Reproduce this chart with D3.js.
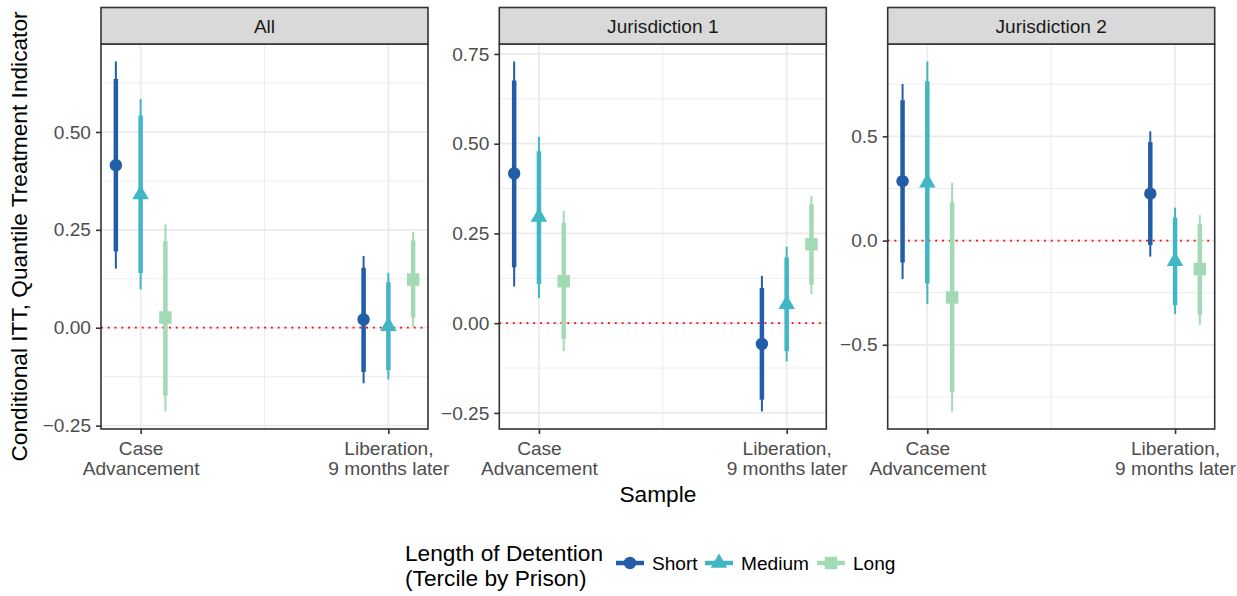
<!DOCTYPE html>
<html>
<head>
<meta charset="utf-8">
<script src="https://cdn.jsdelivr.net/npm/d3@7"></script>
<style>
  body { margin: 0; background: #fff; }
  text { font-family: "Liberation Sans", Arial, sans-serif; }
</style>
</head>
<body>
<svg id="chart" width="1237" height="596"></svg>
<script>
var panels = ["All", "Jurisdiction 1", "Jurisdiction 2"];
var samples = [["Case", "Advancement"], ["Liberation,", "9 months later"]];
var groups = ["Short", "Medium", "Long"];

// values are [panel][sample][group]
var estimate = [
  [[0.415, 0.340, 0.026], [0.021, 0.004, 0.123]],
  [[0.417, 0.296, 0.117], [-0.058, 0.053, 0.220]],
  [[0.285, 0.277, -0.273], [0.225, -0.099, -0.137]]
];
var lo95 = [
  [[0.151, 0.098, -0.214], [-0.142, -0.132, 0.002]],
  [[0.102, 0.070, -0.078], [-0.246, -0.106, 0.081]],
  [[-0.185, -0.305, -0.820], [-0.077, -0.353, -0.404]]
];
var lo90 = [
  [[0.195, 0.140, -0.173], [-0.113, -0.108, 0.026]],
  [[0.156, 0.109, -0.044], [-0.213, -0.078, 0.107]],
  [[-0.105, -0.206, -0.727], [-0.022, -0.310, -0.357]]
];
var hi90 = [
  [[0.635, 0.542, 0.221], [0.153, 0.116, 0.223]],
  [[0.676, 0.479, 0.279], [0.098, 0.183, 0.331]],
  [[0.673, 0.764, 0.185], [0.472, 0.110, 0.078]]
];
var hi95 = [
  [[0.680, 0.584, 0.264], [0.183, 0.140, 0.245]],
  [[0.729, 0.519, 0.313], [0.132, 0.213, 0.354]],
  [[0.751, 0.859, 0.277], [0.524, 0.158, 0.122]]
];
var yTicks = [
  [-0.25, 0, 0.25, 0.5],
  [-0.25, 0, 0.25, 0.5, 0.75],
  [-0.5, 0, 0.5]
];
var yTickFormat = [".2f", ".2f", ".1f"];

var colors = ["#225ea8", "#41b6c4", "#a1dab4"];
var shapes = [d3.symbolCircle, d3.symbolTriangle, d3.symbolSquare];
var shapeSize = [121, 118, 156];
var dodge = [-0.1, 0, 0.1];

var panelLeft = [101, 499.3, 887.7];
var panelW = 327;
var stripTop = 7.5, panelTop = 44, panelBottom = 429;
var tickFont = "19.1px", titleFont = "22.7px";

var svg = d3.select("#chart");

// flat rows so each mark is drawn from the arrays
function rowsFor(p) {
  var rows = [];
  samples.forEach(function(s, si) {
    groups.forEach(function(g, gi) {
      rows.push({
        sample: si + 1, group: gi,
        est: estimate[p][si][gi],
        lo95: lo95[p][si][gi], lo90: lo90[p][si][gi],
        hi90: hi90[p][si][gi], hi95: hi95[p][si][gi]
      });
    });
  });
  return rows;
}

panels.forEach(function(name, p) {
  var rows = rowsFor(p);
  var left = panelLeft[p];

  var xs = [];
  rows.forEach(function(d) { xs.push(d.sample + dodge[d.group]); });
  var xMin = d3.min(xs), xMax = d3.max(xs), xPad = (xMax - xMin) * 0.05;
  var x = d3.scaleLinear().domain([xMin - xPad, xMax + xPad]).range([left, left + panelW]);

  var yMin = d3.min(rows, d => d.lo95), yMax = d3.max(rows, d => d.hi95);
  var yPad = (yMax - yMin) * 0.05;
  var y = d3.scaleLinear().domain([yMin - yPad, yMax + yPad]).range([panelBottom, panelTop]);

  var g = svg.append("g");

  // grid
  var minorY = [];
  var t = yTicks[p], step = t[1] - t[0];
  for (var i = -1; i < t.length; i++) {
    var v = t[0] + step * (i + 0.5);
    if (v > y.domain()[0] && v < y.domain()[1]) minorY.push(v);
  }
  g.selectAll(".minorY").data(minorY).join("line")
    .attr("x1", left).attr("x2", left + panelW)
    .attr("y1", d => y(d)).attr("y2", d => y(d))
    .attr("stroke", "#ebebeb").attr("stroke-width", 0.9);
  g.append("line")
    .attr("x1", x(1.5)).attr("x2", x(1.5))
    .attr("y1", panelTop).attr("y2", panelBottom)
    .attr("stroke", "#ebebeb").attr("stroke-width", 0.9);
  g.selectAll(".majorY").data(yTicks[p]).join("line")
    .attr("x1", left).attr("x2", left + panelW)
    .attr("y1", d => y(d)).attr("y2", d => y(d))
    .attr("stroke", "#ebebeb").attr("stroke-width", 1.7);
  g.selectAll(".majorX").data([1, 2]).join("line")
    .attr("x1", d => x(d)).attr("x2", d => x(d))
    .attr("y1", panelTop).attr("y2", panelBottom)
    .attr("stroke", "#ebebeb").attr("stroke-width", 1.7);

  // zero reference
  g.append("line")
    .attr("x1", left).attr("x2", left + panelW)
    .attr("y1", y(0)).attr("y2", y(0))
    .attr("stroke", "#ff0000").attr("stroke-width", 1.8)
    .attr("stroke-dasharray", "1.8 5");

  // error bars + points
  var marks = g.selectAll(".mark").data(rows).join("g");
  marks.append("line")
    .attr("x1", d => x(d.sample + dodge[d.group])).attr("x2", d => x(d.sample + dodge[d.group]))
    .attr("y1", d => y(d.lo95)).attr("y2", d => y(d.hi95))
    .attr("stroke", d => colors[d.group]).attr("stroke-width", 2);
  marks.append("line")
    .attr("x1", d => x(d.sample + dodge[d.group])).attr("x2", d => x(d.sample + dodge[d.group]))
    .attr("y1", d => y(d.lo90)).attr("y2", d => y(d.hi90))
    .attr("stroke", d => colors[d.group]).attr("stroke-width", 4.5);
  marks.append("path")
    .attr("d", d => d3.symbol(shapes[d.group], shapeSize[d.group])())
    .attr("transform", d => "translate(" + x(d.sample + dodge[d.group]) + "," + y(d.est) + ")")
    .attr("fill", d => colors[d.group]);

  // border
  g.append("rect")
    .attr("x", left).attr("y", panelTop)
    .attr("width", panelW).attr("height", panelBottom - panelTop)
    .attr("fill", "none").attr("stroke", "#333").attr("stroke-width", 1.6);

  // strip
  g.append("rect")
    .attr("x", left).attr("y", stripTop)
    .attr("width", panelW).attr("height", panelTop - stripTop)
    .attr("fill", "#d9d9d9").attr("stroke", "#333").attr("stroke-width", 1.6);
  g.append("text")
    .attr("x", left + panelW / 2).attr("y", 33)
    .attr("text-anchor", "middle")
    .style("font-size", tickFont).attr("fill", "#1a1a1a")
    .text(name);

  // y axis
  var yAxis = g.append("g")
    .attr("transform", "translate(" + left + ",0)")
    .call(d3.axisLeft(y).tickValues(yTicks[p]).tickSize(5).tickPadding(5)
      .tickFormat(d => d3.format(yTickFormat[p])(d).replace("-", "\u2212")));
  yAxis.select(".domain").remove();
  yAxis.selectAll("line").attr("stroke", "#333").attr("stroke-width", 1.6);
  yAxis.selectAll("text").attr("fill", "#4d4d4d")
    .style("font-size", tickFont).style("font-family", "Liberation Sans, Arial, sans-serif");

  // x axis
  var xAxis = g.append("g")
    .attr("transform", "translate(0," + panelBottom + ")")
    .call(d3.axisBottom(x).tickValues([1, 2]).tickSize(5).tickFormat(""));
  xAxis.select(".domain").remove();
  xAxis.selectAll("line").attr("stroke", "#333").attr("stroke-width", 1.6);
  xAxis.selectAll(".tick").each(function(d) {
    var txt = d3.select(this).select("text")
      .attr("y", 0).attr("dy", null)
      .attr("fill", "#4d4d4d")
      .style("font-size", tickFont).style("font-family", "Liberation Sans, Arial, sans-serif");
    txt.selectAll("tspan").data(samples[d - 1]).join("tspan")
      .attr("x", 0).attr("y", (s, i) => 26 + i * 20)
      .text(s => s);
  });
});

// axis titles
svg.append("text")
  .attr("x", (panelLeft[0] + panelLeft[2] + panelW) / 2).attr("y", 502)
  .attr("text-anchor", "middle").style("font-size", titleFont)
  .text("Sample");
svg.append("text")
  .attr("transform", "translate(26.5," + ((panelTop + panelBottom) / 2) + ") rotate(-90)")
  .attr("text-anchor", "middle").style("font-size", titleFont)
  .text("Conditional ITT, Quantile Treatment Indicator");

// legend
var legend = svg.append("g");
legend.append("text").attr("x", 405).attr("y", 561).style("font-size", titleFont)
  .text("Length of Detention");
legend.append("text").attr("x", 405).attr("y", 586).style("font-size", titleFont)
  .text("(Tercile by Prison)");
var keyX = [616, 705, 817];
var keys = legend.selectAll(".key").data(groups).join("g")
  .attr("transform", (d, i) => "translate(" + keyX[i] + ",563)");
keys.append("line")
  .attr("x1", 0).attr("x2", 28).attr("y1", 0).attr("y2", 0)
  .attr("stroke", (d, i) => colors[i]).attr("stroke-width", 4.5);
keys.append("path")
  .attr("d", (d, i) => d3.symbol(shapes[i], shapeSize[i])())
  .attr("transform", "translate(14,0)")
  .attr("fill", (d, i) => colors[i]);
keys.append("text")
  .attr("x", 36).attr("y", 7)
  .style("font-size", tickFont)
  .text(d => d);
</script>
</body>
</html>
